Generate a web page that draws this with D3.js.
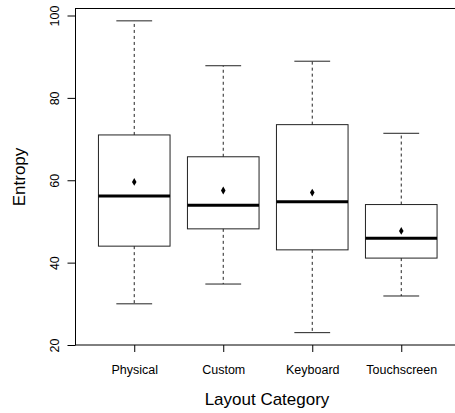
<!DOCTYPE html>
<html>
<head>
<meta charset="utf-8">
<script src="https://cdn.jsdelivr.net/npm/d3@7"></script>
<style>
  body { margin: 0; background: #fff; }
  svg { display: block; font-family: "Liberation Sans", Arial, Helvetica, sans-serif; }
</style>
</head>
<body>
<div id="chart"></div>
<script>
// data
const categories = ["Physical", "Custom", "Keyboard", "Touchscreen"];
const whiskerLow = [30.0, 34.8, 23.0, 31.9];
const q1 = [44.0, 48.2, 43.1, 41.1];
const medians = [56.2, 53.9, 54.8, 45.9];
const q3 = [71.0, 65.7, 73.5, 54.1];
const whiskerHigh = [98.7, 87.8, 88.9, 71.4];
const means = [59.6, 57.5, 57.0, 47.7];
const yTicks = [20, 40, 60, 80, 100];

const width = 455, height = 413;
const plot = {left: 75.5, right: 460, top: 8.5, bottom: 345};

const svg = d3.select("#chart").append("svg")
    .attr("width", width)
    .attr("height", height);

// scales (R style: x positions 1..n, padded range)
const x = d3.scaleLinear()
    .domain([0.34, categories.length + 0.66])
    .range([plot.left, plot.right]);

const y = d3.scaleLinear()
    .domain([20, 100])
    .range([345, 15.5]);

const boxHalf = 35.8, capHalf = 17.9;

const data = categories.map((c, i) => ({
    cat: c, pos: i + 1,
    lo: whiskerLow[i], q1: q1[i], med: medians[i], q3: q3[i], hi: whiskerHigh[i], mean: means[i]
}));

const boxes = svg.append("g").selectAll("g.box")
    .data(data)
    .enter().append("g")
    .attr("class", "box");

// whiskers
boxes.append("line")
    .attr("x1", d => x(d.pos)).attr("x2", d => x(d.pos))
    .attr("y1", d => y(d.q3)).attr("y2", d => y(d.hi))
    .attr("stroke", "#222").attr("stroke-dasharray", "3,3");
boxes.append("line")
    .attr("x1", d => x(d.pos)).attr("x2", d => x(d.pos))
    .attr("y1", d => y(d.q1)).attr("y2", d => y(d.lo))
    .attr("stroke", "#222").attr("stroke-dasharray", "3,3");

// caps
boxes.append("line")
    .attr("x1", d => x(d.pos) - capHalf).attr("x2", d => x(d.pos) + capHalf)
    .attr("y1", d => y(d.hi)).attr("y2", d => y(d.hi))
    .attr("stroke", "#222");
boxes.append("line")
    .attr("x1", d => x(d.pos) - capHalf).attr("x2", d => x(d.pos) + capHalf)
    .attr("y1", d => y(d.lo)).attr("y2", d => y(d.lo))
    .attr("stroke", "#222");

// box
boxes.append("rect")
    .attr("x", d => x(d.pos) - boxHalf)
    .attr("width", boxHalf * 2)
    .attr("y", d => y(d.q3))
    .attr("height", d => y(d.q1) - y(d.q3))
    .attr("fill", "none")
    .attr("stroke", "#222");

// median
boxes.append("line")
    .attr("x1", d => x(d.pos) - boxHalf).attr("x2", d => x(d.pos) + boxHalf)
    .attr("y1", d => y(d.med)).attr("y2", d => y(d.med))
    .attr("stroke", "#000").attr("stroke-width", 3);

// mean marker
boxes.append("path")
    .attr("d", d3.symbol().type(d3.symbolDiamond).size(18))
    .attr("transform", d => `translate(${x(d.pos)},${y(d.mean)})`)
    .attr("fill", "#000");

// frame
svg.append("rect")
    .attr("x", plot.left)
    .attr("y", plot.top)
    .attr("width", plot.right - plot.left)
    .attr("height", plot.bottom - plot.top)
    .attr("fill", "none")
    .attr("stroke", "#000");

// y axis
const yAxis = svg.append("g")
    .attr("transform", `translate(${plot.left},0)`)
    .call(d3.axisLeft(y).tickValues(yTicks).tickSize(8).tickFormat(d3.format("d")));
yAxis.select(".domain").remove();
yAxis.selectAll("line").attr("stroke", "#000");
yAxis.selectAll("text")
    .attr("transform", "rotate(-90)")
    .attr("x", 0).attr("y", -17).attr("dy", 0)
    .attr("text-anchor", "middle")
    .attr("font-size", 12.5)
    .attr("font-family", "Liberation Sans, Arial, sans-serif")
    .attr("fill", "#000");

// x axis
const xAxis = svg.append("g")
    .attr("transform", `translate(0,${plot.bottom})`)
    .call(d3.axisBottom(x).tickValues(data.map(d => d.pos)).tickSize(7)
        .tickFormat((d, i) => categories[i]));
xAxis.select(".domain").remove();
xAxis.selectAll("line").attr("stroke", "#000");
xAxis.selectAll("text")
    .attr("y", 29.3).attr("dy", 0)
    .attr("font-size", 12.5)
    .attr("font-family", "Liberation Sans, Arial, sans-serif")
    .attr("fill", "#000");

// axis titles
svg.append("text")
    .attr("x", 267).attr("y", 405)
    .attr("text-anchor", "middle")
    .attr("font-size", 17)
    .text("Layout Category");

svg.append("text")
    .attr("transform", "translate(25,177) rotate(-90)")
    .attr("text-anchor", "middle")
    .attr("font-size", 17)
    .text("Entropy");
</script>
</body>
</html>
